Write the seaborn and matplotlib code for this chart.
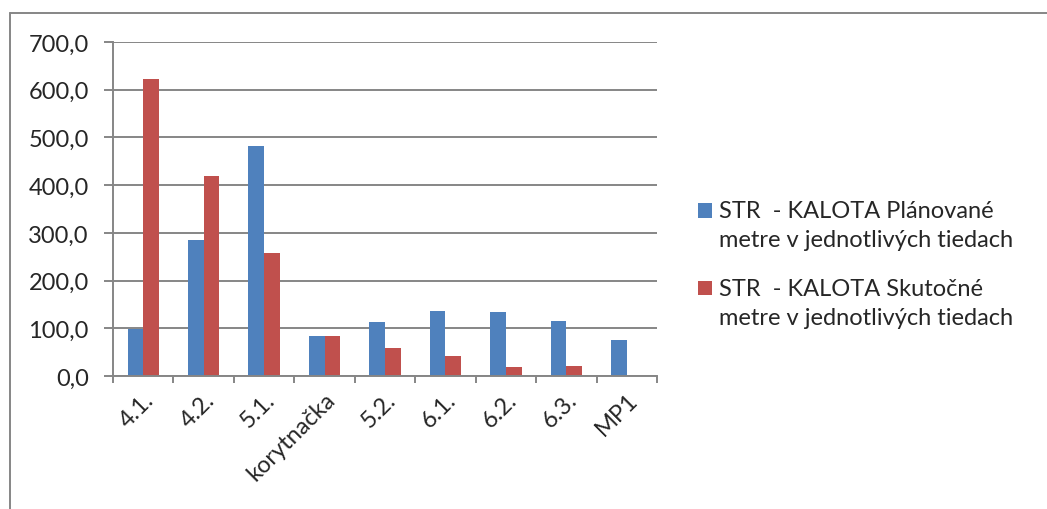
import matplotlib
matplotlib.use("Agg")
import matplotlib.pyplot as plt
import seaborn as sns
import pandas as pd
import numpy as np
from matplotlib.lines import Line2D
from matplotlib.ticker import FuncFormatter, MultipleLocator

categories = ["4.1.", "4.2.", "5.1.", "korytnačka", "5.2.", "6.1.", "6.2.", "6.3.", "MP1"]
planned = [98, 285, 483, 84, 113, 136, 134, 116, 75]
actual = [622, 419, 257, 84, 59, 42, 19, 21, np.nan]
series_names = ["STR  - KALOTA Plánované\nmetre v jednotlivých tiedach",
                "STR  - KALOTA Skutočné\nmetre v jednotlivých tiedach"]
colors = ["#4F81BD", "#C0504D"]

df = pd.DataFrame({
    "cat": categories * 2,
    "val": planned + actual,
    "series": [series_names[0]] * len(categories) + [series_names[1]] * len(categories),
})

sns.set_theme(style="white")
plt.rcParams["font.family"] = ["Lato", "DejaVu Sans"]

fig = plt.figure(figsize=(10.47, 5.10), dpi=100)
ax = fig.add_axes([113 / 1047, 1 - 377 / 510, (657 - 113) / 1047, (377 - 43) / 510])

sns.barplot(data=df, x="cat", y="val", hue="series", palette=colors, ax=ax,
            width=0.52, gap=0, saturation=1, dodge=True, legend=True, linewidth=0)

ax.set_ylim(0, 700)
ax.set_xlim(-0.5, len(categories) - 0.5)
ax.yaxis.set_major_locator(MultipleLocator(100))
ax.yaxis.set_major_formatter(FuncFormatter(lambda v, p: f"{v:.1f}".replace(".", ",")))
ax.grid(axis="y", color="#868686", linewidth=1.4)
ax.set_axisbelow(True)
ax.set_xlabel("")
ax.set_ylabel("")

for s in ["top", "right"]:
    ax.spines[s].set_visible(False)
for s in ["left", "bottom"]:
    ax.spines[s].set_color("#868686")
    ax.spines[s].set_linewidth(1.4)

ax.set_xticks(np.arange(len(categories)))
ax.set_xticklabels(categories, rotation=45, ha="right", rotation_mode="anchor", fontsize=17)
ax.tick_params(axis="x", length=0, pad=9)
ax.set_xticks(np.arange(-0.5, len(categories)), minor=True)
ax.tick_params(axis="x", which="minor", length=5, width=1.4, color="#868686", direction="out", bottom=True)
ax.tick_params(axis="y", length=6.5, width=1.4, color="#868686", direction="out", labelsize=17,
               pad=11, left=True)

leg = ax.legend(loc="center left", bbox_to_anchor=(1.075, 0.335), frameon=False, fontsize=17,
                handlelength=0.6, handleheight=0.6, handletextpad=0.3, labelspacing=1.2,
                borderaxespad=0, borderpad=0)
for t in leg.get_texts():
    t.set_linespacing(1.45)
for h in leg.legend_handles:
    h.set_y(h.get_y() + 11)

fig.add_artist(Line2D([10 / 1047, 1.0], [1 - 14 / 510, 1 - 14 / 510], color="#868686", linewidth=1.4,
                      transform=fig.transFigure))
fig.add_artist(Line2D([10 / 1047, 10 / 1047], [0, 1 - 14 / 510], color="#868686", linewidth=1.4,
                      transform=fig.transFigure))

fig.savefig("out.png", dpi=100, facecolor="white")
